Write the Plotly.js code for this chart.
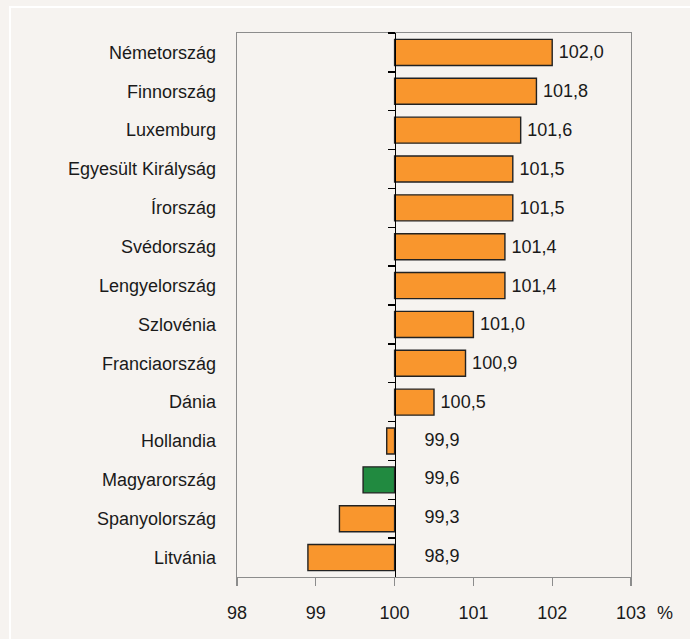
<!DOCTYPE html>
<html>
<head>
<meta charset="utf-8">
<script src="https://cdn.plot.ly/plotly-3.0.1.min.js"></script>
<style>
  html, body { margin: 0; padding: 0; background: #f6f3f0; }
  #wrap { position: relative; width: 690px; height: 639px; overflow: hidden; }
  #frame { position: absolute; left: 9px; top: 6px; width: 700px; height: 700px;
           border-left: 2px solid #ffffff; border-top: 2px solid #ffffff; }
  #chart { position: absolute; left: 0; top: 0; width: 690px; height: 639px; }
</style>
</head>
<body>
<div id="wrap">
  <div id="frame"></div>
  <div id="chart"></div>
</div>
<script>
// Data
const countries = ["Németország", "Finnország", "Luxemburg", "Egyesült Királyság", "Írország",
  "Svédország", "Lengyelország", "Szlovénia", "Franciaország", "Dánia",
  "Hollandia", "Magyarország", "Spanyolország", "Litvánia"];
const values = [102.0, 101.8, 101.6, 101.5, 101.5, 101.4, 101.4, 101.0, 100.9, 100.5,
  99.9, 99.6, 99.3, 98.9];
const highlight = "Magyarország";
const baseValue = 100;
const xTicks = [98, 99, 100, 101, 102, 103];

const fmt = v => v.toFixed(1).replace('.', ',');
const orange = '#f9962d', green = '#218a40';
const catRange = [countries.length - 0.5, -0.5];

const barTrace = {
  type: 'bar', orientation: 'h',
  y: countries,
  x: values.map(v => v - baseValue),
  base: baseValue,
  marker: {
    color: countries.map(c => c === highlight ? green : orange),
    line: { color: '#222222', width: 1.4 }
  },
  text: values.map(v => v >= baseValue ? '\u2009' + fmt(v) : ''),
  textposition: 'outside',
  constraintext: 'none',
  cliponaxis: false,
  textfont: { family: 'Liberation Sans, Arial, sans-serif', size: 18, color: '#1a1a1a' },
  hoverinfo: 'skip'
};

const negLabelTrace = {
  type: 'scatter', mode: 'text',
  y: countries,
  x: countries.map(() => baseValue + 0.38),
  yaxis: 'y2',
  text: values.map(v => v < baseValue ? fmt(v) : ''),
  textposition: 'middle right',
  cliponaxis: false,
  textfont: { family: 'Liberation Sans, Arial, sans-serif', size: 18, color: '#1a1a1a' },
  hoverinfo: 'skip', showlegend: false
};

const layout = {
  width: 690, height: 639,
  margin: { l: 237, r: 59, t: 33, b: 62 },
  paper_bgcolor: 'rgba(0,0,0,0)',
  plot_bgcolor: 'rgba(0,0,0,0)',
  showlegend: false,
  bargap: 0.33,
  hovermode: false,
  font: { family: 'Liberation Sans, Arial, sans-serif', size: 18, color: '#1a1a1a' },
  xaxis: {
    range: [98, 103],
    tickvals: xTicks,
    ticktext: xTicks.map(String),
    ticks: 'outside', ticklen: 8, tickcolor: '#8c8c8c', tickwidth: 1.3,
    showline: true, linecolor: '#8c8c8c', linewidth: 1.3, mirror: true,
    showgrid: false, zeroline: false,
    ticklabelstandoff: 11,
    tickfont: { size: 18, color: '#1a1a1a' },
    fixedrange: true
  },
  yaxis: {
    type: 'category',
    categoryorder: 'array', categoryarray: countries,
    range: catRange,
    showline: true, linecolor: '#8c8c8c', linewidth: 1.3, mirror: true,
    ticks: '', showgrid: false, zeroline: false,
    ticklabelstandoff: 16,
    tickfont: { size: 18, color: '#1a1a1a' },
    fixedrange: true
  },
  yaxis2: {
    type: 'category',
    categoryorder: 'array', categoryarray: countries,
    range: catRange,
    overlaying: 'y', anchor: 'free', side: 'left',
    position: (baseValue - 98) / (103 - 98),
    showline: true, linecolor: '#000000', linewidth: 1.4,
    ticks: 'outside', tickson: 'boundaries', ticklen: 7, tickcolor: '#000000', tickwidth: 1.3,
    showticklabels: false, showgrid: false, zeroline: false,
    fixedrange: true
  },
  annotations: [{
    xref: 'paper', yref: 'paper', x: 1, y: 0,
    xanchor: 'left', yanchor: 'top',
    xshift: 24, yshift: -24,
    text: '%', showarrow: false,
    font: { size: 18, color: '#1a1a1a' }
  }]
};

Plotly.newPlot('chart', [barTrace, negLabelTrace], layout, { staticPlot: true });
</script>
</body>
</html>
